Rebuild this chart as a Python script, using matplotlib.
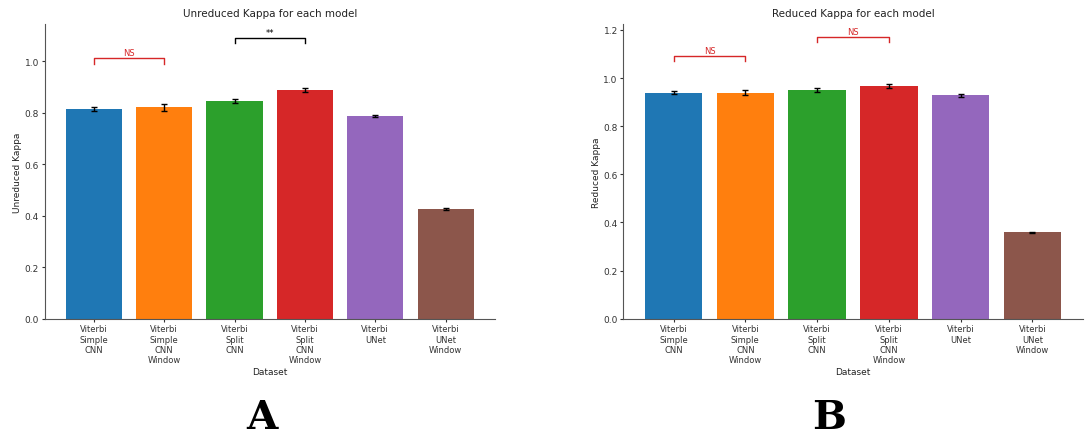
import matplotlib
matplotlib.use("Agg")
import matplotlib.pyplot as plt
import numpy as np

models = ["Viterbi\nSimple\nCNN", "Viterbi\nSimple\nCNN\nWindow", "Viterbi\nSplit\nCNN",
          "Viterbi\nSplit\nCNN\nWindow", "Viterbi\nUNet", "Viterbi\nUNet\nWindow"]
colors = ["#1f77b4", "#ff7f0e", "#2ca02c", "#d62728", "#9467bd", "#8c564b"]

unreduced_kappa = [0.814, 0.820, 0.846, 0.889, 0.787, 0.426]
unreduced_err = [0.009, 0.015, 0.008, 0.008, 0.005, 0.003]
reduced_kappa = [0.939, 0.940, 0.949, 0.966, 0.928, 0.359]
reduced_err = [0.007, 0.010, 0.008, 0.008, 0.008, 0.003]

# significance brackets: (bar i, bar j, base height, label, colour)
unreduced_sig = [(0, 1, 0.99, "NS", "#d62728"), (2, 3, 1.07, "**", "black")]
reduced_sig = [(0, 1, 1.07, "NS", "#d62728"), (2, 3, 1.15, "NS", "#d62728")]

fig = plt.figure(figsize=(10.89, 4.39), dpi=100)
axA = fig.add_axes([0.0409, 0.2718, 0.4136, 0.6713])
axB = fig.add_axes([0.5724, 0.2718, 0.4218, 0.6713])


def draw_panel(ax, values, errs, sig, title, ylabel, ytop):
    x = np.arange(len(models))
    ax.bar(x, values, width=0.8, color=colors, yerr=errs, capsize=2.5,
           error_kw=dict(ecolor="black", elinewidth=1.0, capthick=1.0))
    for i, j, h, label, c in sig:
        ax.plot([i, i, j, j], [h, h + 0.02, h + 0.02, h], color=c, lw=1.0)
        ax.text((i + j) / 2, h + 0.025, label, ha="center", va="bottom",
                color=c, fontsize=6)
    ax.set_xticks(x)
    ax.set_xticklabels(models, fontsize=6)
    ax.set_xlim(-0.7, 5.7)
    ax.set_ylim(0, ytop)
    ax.set_yticks([0.0, 0.2, 0.4, 0.6, 0.8, 1.0] + ([1.2] if ytop > 1.2 else []))
    ax.tick_params(axis="y", labelsize=6.5, length=2, width=0.8, pad=2,
                   colors="#333333")
    ax.tick_params(axis="x", length=2, width=0.8, pad=2, colors="#333333")
    ax.set_xlabel("Dataset", fontsize=6.5, labelpad=2, color="#222222")
    ax.set_ylabel(ylabel, fontsize=6.5, labelpad=2, color="#222222")
    ax.set_title(title, fontsize=7.5, color="#222222")
    for s in ("top", "right"):
        ax.spines[s].set_visible(False)
    for s in ("left", "bottom"):
        ax.spines[s].set_color("#555555")
        ax.spines[s].set_linewidth(0.8)


draw_panel(axA, unreduced_kappa, unreduced_err, unreduced_sig,
           "Unreduced Kappa for each model", "Unreduced Kappa", 1.144)
draw_panel(axB, reduced_kappa, reduced_err, reduced_sig,
           "Reduced Kappa for each model", "Reduced Kappa", 1.225)

fig.text(262 / 1089, 1 - 418 / 439, "A", ha="center", va="center",
         fontsize=29, fontweight="bold", family="DejaVu Serif")
fig.text(829 / 1089, 1 - 418 / 439, "B", ha="center", va="center",
         fontsize=29, fontweight="bold", family="DejaVu Serif")

fig.savefig("out.png", dpi=100, facecolor="white")
